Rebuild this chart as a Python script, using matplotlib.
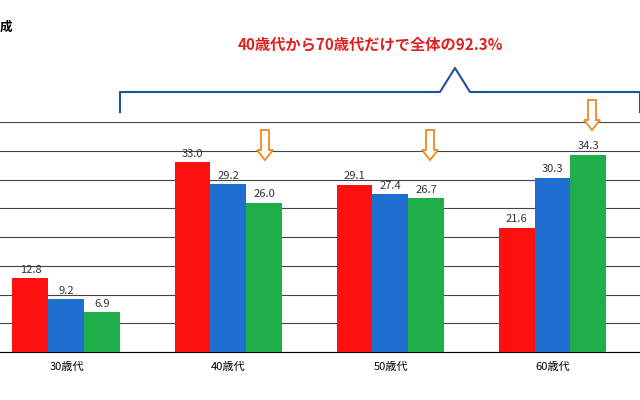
import matplotlib.pyplot as plt
from matplotlib.patches import FancyArrow
from matplotlib.lines import Line2D

plt.rcParams['font.family'] = ['Noto Sans CJK JP', 'DejaVu Sans']

groups = ['30歳代', '40歳代', '50歳代', '60歳代']
red_vals = [12.8, 33.0, 29.1, 21.6]
blue_vals = [9.2, 29.2, 27.4, 30.3]
green_vals = [6.9, 26.0, 26.7, 34.3]
colors = ['#ff1010', '#1f6fd0', '#1fae4a']

fig = plt.figure(figsize=(6.4, 4.0), dpi=100)
ax = fig.add_axes([0, 0.12, 1, 0.575])
w = 0.222
x = list(range(len(groups)))
for i, (vals, c) in enumerate(zip([red_vals, blue_vals, green_vals], colors)):
    pos = [p + (i - 1) * w for p in x]
    ax.bar(pos, vals, width=w, color=c, zorder=3)
    for p, v in zip(pos, vals):
        ax.text(p, v + 0.6, f'{v:.1f}', ha='center', va='bottom', fontsize=8, color='#333333')
ax.set_yticks(range(0, 41, 5))
ax.yaxis.grid(True, color='#444444', lw=0.8, zorder=0)
ax.tick_params(left=False, labelleft=False, bottom=False)
ax.set_xticks(x)
ax.set_xticklabels(groups, fontsize=8)
ax.set_xlim(-0.41, 3.54)
ax.set_ylim(0, 40)
for s in ['top', 'right', 'left']:
    ax.spines[s].set_visible(False)

# bracket annotation
bl = '#1f4fa0'
fig.add_artist(Line2D([120/640, 120/640, 440/640, 455/640, 470/640, 640/640, 640/640],
                      [1-112/400, 1-92/400, 1-92/400, 1-68/400, 1-92/400, 1-92/400, 1-112/400],
                      color=bl, lw=1.5, transform=fig.transFigure))
fig.text(370/640, 1-44/400, '40歳代から70歳代だけで全体の92.3%', color='#e02020',
         fontsize=11, fontweight='bold', ha='center', va='center')
fig.text(0.0, 1-27/400, '成', fontsize=9, fontweight='bold', ha='left', va='center')

# orange arrows
for ax_x, top in [(265, 130), (430, 130), (592, 100)]:
    fig.add_artist(FancyArrow(ax_x/640, 1-top/400, 0, -30/400, width=8/640,
                              head_width=16/640, head_length=10/400, length_includes_head=True,
                              facecolor='white', edgecolor='#f08a1c', lw=1.3,
                              transform=fig.transFigure))

fig.savefig('out.png', dpi=100)
